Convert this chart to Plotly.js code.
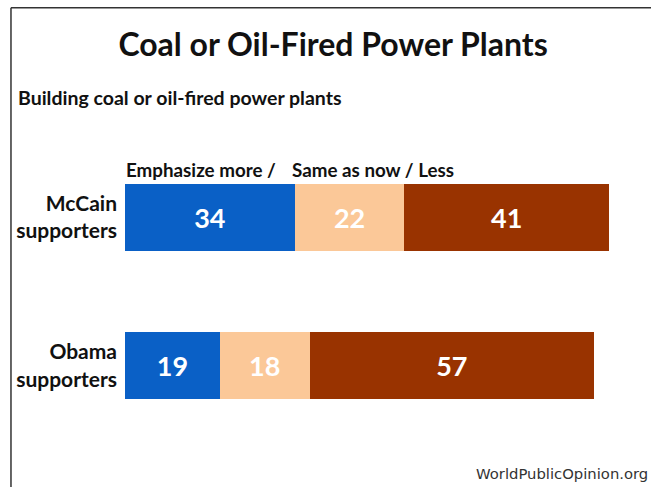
<!DOCTYPE html>
<html>
<head>
<meta charset="utf-8">
<script src="https://cdn.plot.ly/plotly-3.0.1.min.js"></script>
<style>html,body{margin:0;padding:0;background:#fff;}#chart{width:651px;height:487px;}</style>
</head>
<body>
<div id="chart"></div>
<script>
var categories = ["McCain<br>supporters", "Obama<br>supporters"];
var seriesNames = ["Emphasize more", "Same as now", "Less"];
var emphasizeMore = [34, 19];
var sameAsNow = [22, 18];
var less = [41, 57];
var colors = ["#0a60c6", "#fbc898", "#993300"];

var seriesValues = [emphasizeMore, sameAsNow, less];
var traces = seriesValues.map(function (vals, i) {
  return {
    type: "bar",
    orientation: "h",
    name: seriesNames[i],
    y: categories,
    x: vals,
    text: vals.map(String),
    textposition: "inside",
    insidetextanchor: "middle",
    textfont: {family: "Lato, sans-serif", size: 27, color: "#ffffff", weight: "bold"},
    marker: {color: colors[i], line: {width: 0}},
    hoverinfo: "skip",
    cliponaxis: false
  };
});

var layout = {
  width: 651,
  height: 487,
  margin: {l: 125, r: 27, t: 143, b: 47},
  paper_bgcolor: "#ffffff",
  plot_bgcolor: "#ffffff",
  barmode: "stack",
  bargap: 0.55,
  showlegend: false,
  font: {family: "Lato, sans-serif", color: "#111111"},
  xaxis: {range: [0, 100], visible: false, fixedrange: true},
  yaxis: {
    type: "category",
    range: [1.5, -0.5],
    showgrid: false,
    zeroline: false,
    showline: false,
    ticks: "",
    ticklabelstandoff: 7,
    tickfont: {family: "Lato, sans-serif", size: 21, color: "#111111", weight: "bold"},
    fixedrange: true
  },
  title: {
    text: "Coal or Oil-Fired Power Plants",
    font: {family: "Lato, sans-serif", size: 32, color: "#111111", weight: "bold"},
    x: 0.417, xref: "paper", xanchor: "center",
    y: 0.907, yref: "container", yanchor: "middle"
  },
  annotations: [
    {text: "Building coal or oil-fired power plants", xref: "paper", yref: "paper",
     x: -0.218, y: 1.153, xanchor: "left", yanchor: "middle", showarrow: false,
     font: {family: "Lato, sans-serif", size: 19.5, color: "#111111", weight: "bold"}},
    {text: "Emphasize more /", xref: "paper", yref: "paper",
     x: -0.002, y: 0.91, xanchor: "left", yanchor: "middle", showarrow: false,
     font: {family: "Lato, sans-serif", size: 18.8, color: "#111111", weight: "bold"}},
    {text: "Same as now / Less", xref: "paper", yref: "paper",
     x: 0.33, y: 0.91, xanchor: "left", yanchor: "middle", showarrow: false,
     font: {family: "Lato, sans-serif", size: 18.8, color: "#111111", weight: "bold"}},
    {text: "WorldPublicOpinion.org", xref: "paper", yref: "paper",
     x: 1.053, y: -0.113, xanchor: "right", yanchor: "middle", showarrow: false,
     font: {family: "DejaVu Sans, sans-serif", size: 14.8, color: "#333333"}}
  ],
  shapes: [
    {type: "line", xref: "paper", yref: "paper", x0: -0.2285, x1: -0.2285, y0: 1.455, y1: -0.2,
     line: {color: "#333333", width: 1.5}},
    {type: "line", xref: "paper", yref: "paper", x0: -0.2285, x1: 1.07, y0: 1.455, y1: 1.455,
     line: {color: "#333333", width: 1.5}}
  ]
};

Plotly.newPlot("chart", traces, layout, {displayModeBar: false, staticPlot: true});
</script>
</body>
</html>
